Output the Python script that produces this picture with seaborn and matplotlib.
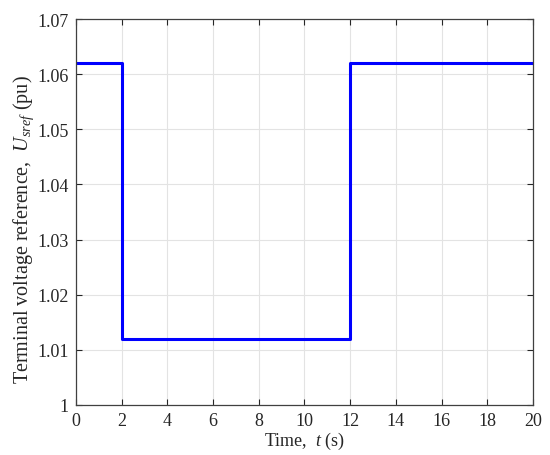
import matplotlib
matplotlib.use('Agg')
import matplotlib.pyplot as plt
import seaborn as sns
import pandas as pd

# step reference signal
time_s = [0, 2, 2, 12, 12, 20]
u_sref = [1.062, 1.062, 1.012, 1.012, 1.062, 1.062]

x_ticks = [0, 2, 4, 6, 8, 10, 12, 14, 16, 18, 20]
y_ticks = [1, 1.01, 1.02, 1.03, 1.04, 1.05, 1.06, 1.07]
y_tick_labels = ['1', '1.01', '1.02', '1.03', '1.04', '1.05', '1.06', '1.07']

sns.set_style('white')
plt.rcParams['font.family'] = ['Liberation Serif', 'DejaVu Serif']
plt.rcParams['mathtext.fontset'] = 'custom'
plt.rcParams['mathtext.rm'] = 'Liberation Serif'
plt.rcParams['mathtext.it'] = 'Liberation Serif:italic'

df = pd.DataFrame({'t': time_s, 'u': u_sref})

fig = plt.figure(figsize=(5.5, 4.56), dpi=100)
ax = fig.add_axes([0.138, 0.110, 0.831, 0.846])

sns.lineplot(data=df, x='t', y='u', sort=False, estimator=None, errorbar=None,
             color='#0000ff', linewidth=2.2, ax=ax)

ax.set_xlim(0, 20)
ax.set_ylim(1, 1.07)
ax.set_xticks(x_ticks)
ax.set_yticks(y_ticks)
ax.set_yticklabels(y_tick_labels)
ax.grid(True, color='#e3e3e3', linewidth=0.8)
ax.set_axisbelow(True)
ax.tick_params(direction='in', length=4, width=0.8, labelsize=13, colors='#262626',
               bottom=True, left=True, top=True, right=True, pad=5)
for s in ax.spines.values():
    s.set_color('#404040')
    s.set_linewidth(0.9)

ax.set_xlabel(r'Time,  $t$ (s)', fontsize=13, labelpad=1)
ax.set_ylabel(r'Terminal voltage reference,  $U_{sref}$ (pu)', fontsize=14.5)
ax.yaxis.set_label_coords(-0.088, 0.456)

fig.savefig('out.png', dpi=100)
